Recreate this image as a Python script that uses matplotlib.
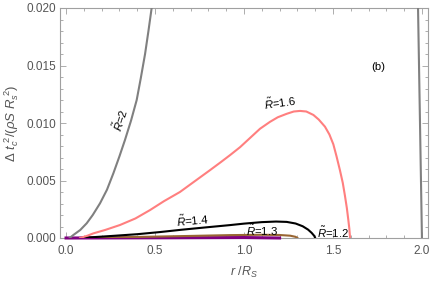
import matplotlib
matplotlib.use('Agg')
import matplotlib.pyplot as plt
from matplotlib.ticker import MultipleLocator

plt.rcParams['font.family'] = ['Liberation Sans', 'DejaVu Sans']
plt.rcParams['mathtext.fontset'] = 'custom'
plt.rcParams['mathtext.rm'] = 'Liberation Sans'
plt.rcParams['mathtext.it'] = 'Liberation Sans:italic'
plt.rcParams['mathtext.bf'] = 'Liberation Sans:bold'

# R~ = 2 (rising branch, then falling branch near r = 2)
r_2a = [0.02, 0.041, 0.08, 0.116, 0.15, 0.191, 0.23, 0.266, 0.30, 0.331, 0.365,
        0.397, 0.42, 0.444, 0.463, 0.481, 0.50, 0.52]
v_2a = [0.0, 0.00026, 0.0007, 0.00128, 0.0020, 0.00302, 0.0042, 0.00563, 0.0071, 0.00852, 0.0102,
        0.0120, 0.0139, 0.0160, 0.0180, 0.0200, 0.0220, 0.0242]
r_2b = [1.96, 1.978, 2.0]
v_2b = [0.030, 0.020, 0.0]

# R~ = 1.6
r_16 = [0.079, 0.12, 0.153, 0.22, 0.303, 0.39, 0.472, 0.55, 0.64, 0.72, 0.809, 0.87,
        0.921, 0.978, 1.034, 1.09, 1.146, 1.19, 1.24, 1.28, 1.315, 1.35, 1.39, 1.42,
        1.455, 1.48, 1.502, 1.52, 1.539, 1.555, 1.567, 1.578, 1.586, 1.592, 1.596]
v_16 = [0.0, 0.0002, 0.0004, 0.0007, 0.00113, 0.0017, 0.00243, 0.0032, 0.0040, 0.0049, 0.0059, 0.0066,
        0.0072, 0.0079, 0.0087, 0.0095, 0.0101, 0.0105, 0.0108, 0.0110, 0.01105, 0.0110, 0.0107, 0.0103,
        0.00968, 0.0090, 0.00815, 0.0071, 0.0059, 0.0048, 0.0037, 0.0026, 0.0016, 0.0008, 0.0]

# R~ = 1.4
r_14 = [0.08, 0.25, 0.4, 0.53, 0.65, 0.79, 0.92, 1.0, 1.1, 1.18, 1.24, 1.29,
        1.33, 1.36, 1.38, 1.395, 1.40]
v_14 = [0.0, 0.00017, 0.00033, 0.00052, 0.00072, 0.00093, 0.00112, 0.00125, 0.00138, 0.00143, 0.00140, 0.00126,
        0.00102, 0.00073, 0.00045, 0.00018, 0.0]

# R~ = 1.3
r_13 = [0.1, 0.3, 0.5, 0.7, 0.92, 1.1, 1.2, 1.26, 1.29, 1.3]
v_13 = [0.0, 0.00006, 0.00012, 0.00018, 0.00025, 0.00028, 0.00026, 0.0002, 0.0001, 0.0]

# R~ = 1.2
r_12 = [0.0, 0.6, 1.0, 1.2]
v_12 = [0.0, 0.00002, 0.00004, 0.0]

labels = [r'$\tilde{R}$=2', r'$\tilde{R}$=1.6', r'$\tilde{R}$=1.4', r'$\tilde{R}$=1.3', r'$\tilde{R}$=1.2']
label_r = [0.303, 1.202, 0.708, 1.101, 1.500]
label_v = [0.0103, 0.0118, 0.00157, 0.00070, 0.00052]
label_rot = [72, 8, 5, 0, 0]

frame_col = '#a0a0a0'
text_col = '#555555'

fig = plt.figure(figsize=(4.36, 2.84), dpi=100)
ax = fig.add_axes([60 / 436, 46 / 284, 368 / 436, 230 / 284])

ax.plot(r_12, v_12, color='#800080', lw=2.2, clip_on=False, zorder=3)
ax.plot(r_13, v_13, color='#996633', lw=1.5, zorder=3)
ax.plot(r_14, v_14, color='black', lw=1.5, zorder=3)
ax.plot(r_16, v_16, color='#ff7f7f', lw=1.5, zorder=3)
ax.plot(r_2a, v_2a, color='#808080', lw=1.5, zorder=3)
ax.plot(r_2b, v_2b, color='#808080', lw=1.5, zorder=3)

for txt, x, y, rot in zip(labels, label_r, label_v, label_rot):
    ax.text(x, y, txt, fontsize=8.2, rotation=rot, ha='center', va='center',
            rotation_mode='anchor', zorder=4)
ax.text(1.753, 0.0149, '(b)', fontsize=8.2, ha='center', va='center')

ax.set_xlim(-0.034, 2.034)
ax.set_ylim(0, 0.020)
ax.xaxis.set_major_locator(MultipleLocator(0.5))
ax.xaxis.set_minor_locator(MultipleLocator(0.1))
ax.yaxis.set_major_locator(MultipleLocator(0.005))
ax.yaxis.set_minor_locator(MultipleLocator(0.001))
ax.xaxis.set_major_formatter(lambda v, p: f'{v:.1f}')
ax.yaxis.set_major_formatter(lambda v, p: f'{v:.3f}')

ax.tick_params(which='both', direction='in', top=True, right=True,
               color=frame_col, labelcolor=text_col, labelsize=8.5, width=0.6)
ax.tick_params(which='major', length=4)
ax.tick_params(which='minor', length=2)
ax.tick_params(axis='x', pad=5)
ax.tick_params(axis='y', pad=3)
for s in ax.spines.values():
    s.set_color(frame_col)
    s.set_linewidth(0.8)

ax.set_xlabel(r'$r\ /R_S$', fontsize=9, color=text_col, labelpad=6)
ax.set_ylabel(r'$\Delta\ t_c^{\ 2}/(\rho S\ R_s^{\ 2})$', fontsize=9.5, color=text_col, labelpad=4)

fig.savefig('out.png', dpi=100)
